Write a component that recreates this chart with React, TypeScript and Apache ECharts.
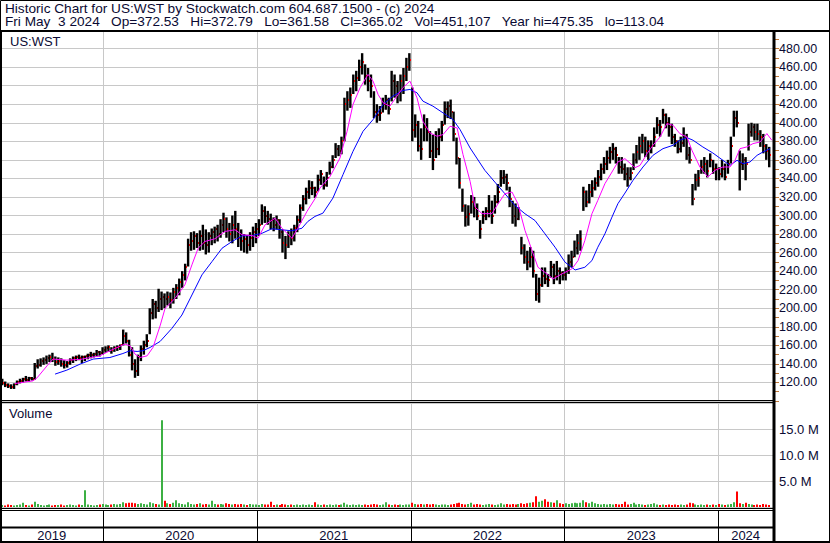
import React, { useEffect, useRef } from 'react';
import * as echarts from 'echarts';

const DAY = 86400000;
const FIRST_BAR = Date.UTC(2019, 4, 8);
const AXIS_MIN = Date.UTC(2019, 4, 5);
const AXIS_MAX = Date.UTC(2024, 4, 10);
const yearStarts = [AXIS_MIN, Date.UTC(2020, 0, 1), Date.UTC(2021, 0, 1), Date.UTC(2022, 0, 1), Date.UTC(2023, 0, 1), Date.UTC(2024, 0, 1)];
const yearLabels = ['2019', '2020', '2021', '2022', '2023', '2024'];

const titleLine = 'Historic Chart for US:WST by Stockwatch.com 604.687.1500 - (c) 2024';
const quoteFields = ['Fri May  3 2024', 'Op=372.53', 'Hi=372.79', 'Lo=361.58', 'Cl=365.02', 'Vol=451,107', 'Year hi=475.35', 'lo=113.04'];

// weekly bars (one per week starting week of May 6 2019)
const highs = [
  124, 121, 119, 118, 119, 122, 124, 125, 127, 126,
  126, 141, 145, 146, 147, 149, 150, 152, 148, 147,
  146, 144, 143, 146, 148, 149, 150, 149, 149, 151,
  153, 152, 155, 154, 158, 159, 160, 158, 159, 160,
  161, 177, 174, 166, 158, 145, 150, 160, 165, 172,
  200, 210, 208, 221, 218, 216, 218, 217, 222, 226,
  232, 240, 248, 275, 282, 283, 281, 284, 290, 285,
  282, 286, 288, 290, 296, 303, 298, 292, 300, 305,
  292, 285, 280, 279, 282, 288, 292, 296, 312, 310,
  305, 302, 298, 300, 296, 285, 278, 283, 286, 290,
  300, 312, 322, 330, 338, 337, 331, 344, 349, 342,
  347, 358, 365, 378, 376, 385, 427, 434, 438, 452,
  456, 468, 475, 463, 459, 452, 434, 420, 418, 427,
  430, 427, 456, 452, 445, 452, 459, 470, 475, 438,
  409, 402, 394, 409, 405, 391, 387, 391, 394, 402,
  423, 423, 425, 412, 384, 362, 329, 312, 311, 322,
  320, 313, 295, 305, 309, 322, 316, 322, 334, 349,
  349, 345, 331, 316, 313, 309, 277, 269, 262, 266,
  262, 237, 233, 244, 244, 237, 251, 248, 251, 244,
  240, 244, 258, 262, 273, 280, 284, 331, 327, 334,
  338, 341, 349, 356, 363, 370, 374, 378, 374, 363,
  363, 356, 352, 352, 367, 376, 385, 388, 385, 381,
  381, 395, 406, 403, 415, 410, 406, 399, 388, 381,
  385, 395, 388, 374, 334, 345, 349, 360, 363, 360,
  367, 360, 356, 352, 360, 356, 360, 385, 413, 413,
  370, 367, 363, 399, 400, 399, 399, 392, 388, 377, 374,
];
const lows = [
  117, 115, 114, 113, 113, 117, 119, 120, 121, 121,
  122, 123, 135, 137, 139, 140, 142, 142, 138, 139,
  137, 135, 136, 139, 141, 143, 144, 141, 143, 145,
  146, 147, 148, 148, 150, 152, 153, 151, 153, 154,
  155, 160, 162, 148, 133, 125, 127, 143, 150, 158,
  172, 188, 189, 196, 198, 200, 203, 200, 205, 210,
  214, 222, 230, 245, 262, 263, 265, 262, 263, 258,
  260, 268, 270, 272, 276, 282, 276, 272, 270, 275,
  266, 262, 260, 259, 262, 266, 270, 278, 290, 292,
  290, 285, 283, 285, 275, 260, 253, 265, 268, 272,
  282, 292, 305, 312, 318, 322, 319, 326, 333, 328,
  331, 344, 351, 362, 364, 366, 380, 413, 416, 431,
  434, 445, 452, 441, 434, 427, 405, 400, 402, 411,
  414, 409, 423, 427, 421, 423, 431, 445, 456, 380,
  384, 369, 360, 380, 380, 362, 349, 362, 365, 380,
  398, 405, 404, 380, 355, 329, 304, 288, 289, 302,
  298, 295, 275, 291, 295, 298, 291, 302, 313, 331,
  334, 327, 309, 291, 288, 295, 258, 248, 241, 244,
  233, 208, 206, 223, 226, 223, 233, 226, 230, 226,
  230, 230, 237, 244, 255, 258, 262, 305, 309, 313,
  320, 327, 331, 338, 345, 349, 356, 360, 356, 345,
  345, 338, 331, 338, 349, 356, 360, 367, 363, 360,
  367, 374, 388, 385, 399, 394, 385, 377, 374, 367,
  368, 374, 360, 356, 311, 327, 331, 345, 345, 341,
  352, 345, 338, 338, 341, 338, 345, 356, 385, 395,
  327, 349, 338, 370, 385, 381, 381, 374, 367, 360, 352,
];
const closes = [
  119, 117, 116, 115, 118, 121, 122, 124, 123, 125,
  124, 138, 139, 143, 144, 146, 147, 145, 142, 143,
  140, 139, 141, 144, 146, 147, 146, 147, 148, 150,
  150, 151, 153, 152, 155, 157, 158, 155, 157, 158,
  160, 170, 165, 150, 140, 132, 147, 156, 160, 165,
  195, 205, 200, 210, 212, 210, 212, 209, 218, 222,
  228, 236, 245, 268, 272, 278, 270, 278, 270, 268,
  278, 282, 285, 280, 290, 296, 285, 280, 290, 285,
  276, 272, 275, 268, 276, 282, 285, 290, 305, 300,
  296, 295, 290, 295, 282, 270, 268, 278, 276, 286,
  295, 308, 318, 325, 330, 330, 325, 338, 345, 333,
  340, 352, 360, 372, 370, 380, 420, 425, 430, 445,
  448, 460, 465, 450, 445, 440, 412, 408, 410, 420,
  425, 415, 445, 440, 432, 445, 450, 460, 468, 392,
  398, 375, 372, 395, 390, 370, 360, 372, 385, 398,
  415, 418, 412, 388, 362, 335, 310, 298, 302, 315,
  308, 300, 285, 300, 305, 305, 300, 315, 325, 340,
  342, 335, 318, 300, 296, 305, 265, 255, 250, 255,
  240, 215, 225, 235, 232, 230, 245, 235, 240, 238,
  236, 240, 250, 255, 265, 270, 275, 325, 315, 325,
  330, 335, 342, 350, 355, 362, 368, 372, 365, 352,
  350, 345, 340, 346, 360, 368, 375, 380, 370, 375,
  375, 385, 398, 395, 408, 400, 395, 385, 380, 372,
  378, 385, 365, 360, 318, 338, 340, 352, 355, 348,
  360, 350, 350, 345, 350, 342, 355, 375, 405, 400,
  355, 360, 355, 390, 395, 390, 388, 385, 375, 370, 365,
];
// representative daily volume per week, millions
const volumes = [
  0.4, 0.3, 0.5, 0.4, 0.3, 0.4, 0.5, 0.8, 0.4, 0.3,
  0.5, 1.0, 0.6, 0.4, 0.3, 0.4, 0.5, 0.3, 0.4, 0.4,
  0.5, 0.3, 0.4, 0.5, 0.4, 0.3, 0.5, 0.4, 3.2, 0.5,
  0.4, 0.3, 0.4, 0.5, 0.6, 0.5, 0.4, 0.5, 0.6, 0.5,
  0.6, 0.9, 0.7, 0.8, 0.8, 0.7, 0.6, 0.7, 0.6, 0.5,
  0.9, 0.7, 0.6, 0.5, 16.7, 1.2, 0.7, 0.6, 0.8, 1.3,
  0.7, 0.6, 0.5, 0.9, 0.6, 0.5, 0.6, 0.7, 0.5, 0.6,
  0.5, 1.2, 0.6, 0.5, 0.6, 0.5, 0.7, 0.6, 0.5, 0.6,
  0.5, 0.6, 0.5, 0.4, 0.6, 0.5, 0.5, 0.4, 0.6, 0.5,
  0.5, 1.0, 0.4, 0.5, 0.4, 0.6, 0.5, 0.4, 0.5, 0.4,
  0.5, 0.4, 0.5, 0.4, 0.5, 0.4, 0.9, 0.5, 0.4, 0.5,
  0.4, 0.5, 0.4, 0.5, 0.4, 0.5, 0.8, 0.5, 0.4, 0.5,
  0.4, 0.5, 0.4, 0.5, 0.4, 0.5, 0.6, 0.5, 0.4, 0.5,
  0.9, 0.5, 0.4, 0.5, 0.4, 0.5, 0.4, 0.5, 0.5, 0.8,
  0.6, 0.5, 0.6, 0.5, 0.6, 0.5, 0.6, 0.5, 0.4, 0.5,
  0.5, 0.4, 0.5, 0.6, 0.7, 0.8, 0.6, 0.5, 0.6, 0.8,
  0.5, 0.6, 0.5, 0.4, 0.5, 0.6, 0.5, 0.4, 0.5, 0.7,
  0.5, 0.6, 0.5, 0.6, 0.5, 0.6, 0.7, 0.6, 0.7, 0.8,
  0.9, 2.05, 1.0, 1.2, 1.5, 1.0, 0.9, 0.8, 1.3, 0.7,
  0.6, 0.7, 0.6, 0.7, 0.8, 0.7, 0.8, 1.3, 0.9, 0.7,
  1.0, 0.7, 0.6, 0.5, 0.6, 0.5, 0.6, 0.5, 0.6, 0.5,
  0.6, 1.0, 0.5, 0.6, 0.8, 0.5, 0.6, 0.5, 0.4, 0.5,
  0.6, 0.7, 0.5, 0.4, 0.5, 0.4, 0.5, 0.4, 0.5, 0.4,
  0.5, 0.4, 0.5, 0.8, 0.7, 0.5, 0.4, 0.5, 0.4, 0.5,
  0.4, 0.5, 0.4, 0.6, 0.5, 0.4, 0.5, 0.6, 0.9, 3.0,
  0.7, 0.6, 0.8, 0.6, 0.5, 0.4, 0.5, 0.4, 0.6, 0.5, 0.4,
];
// moving averages sampled at [week index, value]
const maShort = [
  [4.3, 118.8], [10.4, 121.7], [11.8, 125], [15.2, 138], [17.2, 145.2], [21.9, 144.1], [26.4, 144.8], [33.1, 148.7],
  [36.5, 154.2], [41.6, 161.4], [43.3, 159.6], [45, 150.6], [46.7, 146.9], [49.1, 148.7], [51.1, 157.7], [53.5, 181],
  [55.2, 199.9], [58.6, 210.7], [61.9, 225.2], [64.3, 246.8], [66.4, 264.7], [68.7, 272], [72.1, 274.9], [75.5, 282.8],
  [78.9, 284.6], [81.3, 279.2], [84.7, 278.4], [86.7, 275.5], [89.1, 290], [92.5, 297.1], [94.8, 286.3], [98.2, 275.5],
  [100.2, 286.3], [103.3, 304.4], [106, 318], [107.7, 329.6], [111.1, 342], [114.5, 362], [116.9, 390.8], [118.9, 419.7],
  [121.3, 437.7], [124, 452.1], [125.7, 444.9], [127.4, 430.5], [129.1, 421.5], [131.4, 417.9], [133.8, 428.7], [135.8, 437.7],
  [138.2, 444.9], [140.6, 426.9], [142.6, 401.6], [145, 389], [147.4, 385.4], [149.4, 387.2], [151.8, 396.2], [154.2, 394.4],
  [156.2, 365.6], [158.6, 336.8], [160.3, 309], [162.6, 302], [166, 302], [168.1, 312.7], [170.4, 323.5], [172.8, 325.3],
  [174.8, 312.7], [177.2, 284], [179.6, 262.2], [181.6, 244.2], [184.7, 237], [186.7, 231.6], [189.7, 237], [193.1, 242.4],
  [195.2, 251.4], [197.5, 273], [199.9, 301.9], [201.9, 316.3], [204.3, 334.3], [206.7, 346.9], [208.7, 357.7], [211.1, 361.3],
  [214.5, 351.6], [216.2, 354], [218.6, 366.7], [220.6, 375.7], [223, 384.7], [225.3, 399.1], [227.4, 397.3], [229.7, 388.3],
  [232.1, 384.7], [233.8, 370.3], [236.5, 352.3], [239.2, 341.5], [241.6, 348.7], [244.3, 352.3], [246.7, 352.3], [248.4, 359.5],
  [250.1, 372.1], [252.4, 373.9], [254.5, 377.5], [256.9, 379.3], [259.2, 388.3], [260.9, 381.1],
];
const maLong = [
  [17.9, 129], [21.9, 133.3], [26.4, 139.8], [30.8, 145.2], [36.5, 146.9], [40.9, 151.2], [43.3, 154.2], [45.7, 153.4],
  [47.7, 154.2], [50.1, 157.7], [53.5, 164.2], [57.5, 178.3], [60.9, 192.7], [64.3, 214.3], [67.7, 236], [71.1, 250.3],
  [74.5, 264.7], [77.9, 272], [81.3, 278.1], [84.7, 278.4], [88.1, 280.9], [91.4, 285.7], [94.8, 284.6], [98.2, 283.5],
  [101.6, 286.3], [103.6, 293.6], [106, 299], [108.7, 302.5], [112.1, 318.8], [115.5, 344], [118.9, 369.2], [122.3, 390.8],
  [125.7, 403.4], [129.1, 419.7], [132.4, 428.7], [135.8, 434.8], [138.2, 435.9], [140.6, 432.3], [142.6, 423.3], [146, 417.9],
  [149.4, 410.7], [152.8, 403.4], [155.2, 392.6], [158.6, 372.8], [163.6, 348.7], [167, 336], [170.4, 323.5], [173.8, 310.9],
  [177.2, 301.9], [180.6, 294.6], [184, 280.2], [187.4, 265.8], [190.8, 249.6], [194.2, 241.3], [197.5, 244.2], [199.9, 251.4],
  [201.9, 265.8], [204.3, 280.2], [206.7, 298.3], [208.7, 312.7], [211.1, 324.2], [213.8, 337.8], [217.2, 352.3], [220.6, 364.9],
  [224, 372.1], [227.4, 375.7], [229.7, 381.1], [232.1, 384], [234.2, 381.1], [237.5, 373.9], [240.9, 367.4], [244.3, 359.5],
  [246.7, 354.1], [249.1, 359.5], [251.1, 355.9], [253.5, 357.7], [255.9, 364.9], [257.9, 368.5], [260.3, 372.1],
];

const FONT = 'Arial, "Liberation Sans", sans-serif';
const TXT = '#0a0a33';
const GRIDC = '#c8c8c8';

const weekTime = (w: number) => FIRST_BAR + w * 7 * DAY;

export default function App() {
  const ref = useRef<HTMLDivElement>(null);
  useEffect(() => {
    document.body.style.margin = '0';
    const chart = echarts.init(ref.current!, undefined, { renderer: 'svg' });
    const barData = highs.map((h, i) => [weekTime(i), h, lows[i], closes[i]]);
    const volData = volumes.map((v, i) => [weekTime(i), v, i === 0 || closes[i] >= closes[i - 1] ? 1 : 0]);
    const yearLineData = yearStarts.slice(1).map((t) => [t]);
    const yearBandData = yearStarts.map((t, i) => [t, i < yearStarts.length - 1 ? yearStarts[i + 1] : AXIS_MAX, i]);

    const vGrid = (params: any, api: any) => {
      const cs = params.coordSys;
      const x = Math.round(api.coord([api.value(0), 0])[0]) + 0.5;
      return { type: 'line', shape: { x1: x, y1: cs.y, x2: x, y2: cs.y + cs.height }, style: { stroke: GRIDC, lineWidth: 1 } };
    };

    const xAxisBase = { type: 'time', min: AXIS_MIN, max: AXIS_MAX, show: false };

    const hl = (x1: number, y: number, x2: number, w: number) => ({
      type: 'line', z: 100, shape: { x1, y1: y, x2, y2: y }, style: { stroke: '#000', lineWidth: w },
    });
    const vl = (x: number, y1: number, y2: number, w: number) => ({
      type: 'line', z: 100, shape: { x1: x, y1, x2: x, y2 }, style: { stroke: '#000', lineWidth: w },
    });
    const quoteLine = quoteFields.join('   ').replace(/ /g, '\u00a0');

    chart.setOption({
      animation: false,
      useUTC: true,
      backgroundColor: '#ffffff',
      grid: [
        { left: 1, right: 57, top: 30, height: 371 },
        { left: 1, right: 57, top: 403, height: 104 },
        { left: 1, right: 57, top: 510, height: 33 },
      ],
      xAxis: [
        { ...xAxisBase, gridIndex: 0 },
        { ...xAxisBase, gridIndex: 1 },
        { ...xAxisBase, gridIndex: 2 },
      ],
      yAxis: [
        {
          gridIndex: 0, type: 'value', position: 'right', min: 100, max: 500, interval: 20,
          axisLine: { show: false },
          axisTick: { show: true, length: 6, lineStyle: { color: '#c07838' } },
          minorTick: { show: true, splitNumber: 2, length: 6, lineStyle: { color: '#c07838' } },
          splitLine: { show: true, lineStyle: { color: GRIDC, width: 1 } },
          axisLabel: {
            margin: 6, color: TXT, fontSize: 12.5, fontFamily: FONT,
            formatter: (v: number) => (v <= 100 || v >= 500 ? '' : v.toFixed(2)),
          },
        },
        {
          gridIndex: 1, type: 'value', position: 'right', min: 0, max: 20, interval: 5,
          axisLine: { show: false }, axisTick: { show: false },
          splitLine: { show: true, lineStyle: { color: GRIDC, width: 1 } },
          axisLabel: {
            margin: 6, color: TXT, fontSize: 13, fontFamily: FONT,
            formatter: (v: number) => (v <= 0 || v >= 20 ? '' : v.toFixed(1) + ' M'),
          },
        },
        { gridIndex: 2, type: 'value', min: 0, max: 1, show: false },
      ],
      series: [
        { type: 'custom', xAxisIndex: 0, yAxisIndex: 0, z: 1, silent: true, data: yearLineData, renderItem: vGrid },
        { type: 'custom', xAxisIndex: 1, yAxisIndex: 1, z: 1, silent: true, data: yearLineData, renderItem: vGrid },
        {
          type: 'custom', xAxisIndex: 0, yAxisIndex: 0, z: 5, silent: true,
          data: barData, encode: { x: 0, y: [1, 2] },
          renderItem: (params: any, api: any) => {
            const t = api.value(0);
            const hi = api.coord([t, api.value(1)]);
            const lo = api.coord([t, api.value(2)]);
            const cl = api.coord([t, api.value(3)]);
            const x = hi[0];
            return {
              type: 'group',
              children: [
                { type: 'rect', shape: { x: x - 1.2, y: hi[1], width: 2.4, height: Math.max(1, lo[1] - hi[1]) }, style: { fill: '#000' } },
                { type: 'rect', shape: { x: Math.round(x) + 1, y: Math.round(cl[1]) - 1, width: 1, height: 2 }, style: { fill: '#ff0000' } },
              ],
            };
          },
        },
        {
          type: 'line', xAxisIndex: 0, yAxisIndex: 0, z: 6, silent: true, showSymbol: false, symbol: 'none',
          data: maLong.map(([w, v]) => [weekTime(w), v]),
          lineStyle: { color: '#0000ff', width: 1 },
        },
        {
          type: 'line', xAxisIndex: 0, yAxisIndex: 0, z: 7, silent: true, showSymbol: false, symbol: 'none',
          data: maShort.map(([w, v]) => [weekTime(w), v]),
          lineStyle: { color: '#ff00ff', width: 1 },
        },
        {
          type: 'custom', xAxisIndex: 1, yAxisIndex: 1, z: 5, silent: true,
          data: volData, encode: { x: 0, y: 1 },
          renderItem: (params: any, api: any) => {
            const t = api.value(0);
            const top = api.coord([t, api.value(1)]);
            const base = api.coord([t, 0]);
            const x = Math.round(top[0]);
            return {
              type: 'rect',
              shape: { x: x - 1, y: top[1], width: 2, height: Math.max(1, base[1] - top[1]) },
              style: { fill: api.value(2) ? '#3cb043' : '#ff0000' },
            };
          },
        },
        {
          type: 'custom', xAxisIndex: 2, yAxisIndex: 2, z: 5, silent: true,
          data: yearBandData,
          renderItem: (params: any, api: any) => {
            const cs = params.coordSys;
            const x1 = api.coord([api.value(0), 0])[0];
            const x2 = api.coord([api.value(1), 0])[0];
            const idx = api.value(2);
            const children: any[] = [
              {
                type: 'text', x: (x1 + x2) / 2, y: cs.y + 25.5,
                style: { text: yearLabels[idx], fill: TXT, font: `13px ${FONT}`, align: 'center', verticalAlign: 'middle' },
              },
            ];
            if (idx > 0) {
              const xr = Math.round(x1) + 0.5;
              children.push({ type: 'line', shape: { x1: xr, y1: cs.y, x2: xr, y2: cs.y + cs.height }, style: { stroke: '#000', lineWidth: 1 } });
            }
            return { type: 'group', children };
          },
        },
      ],
      graphic: [
        { type: 'rect', z: 100, shape: { x: 0.5, y: 0.5, width: 829, height: 542 }, style: { fill: 'none', stroke: '#000', lineWidth: 1 } },
        vl(1.5, 31, 543, 1),
        hl(0, 31, 830, 2),
        vl(774, 31, 543, 3),
        hl(0, 400.5, 774, 1),
        hl(0, 402.5, 774, 1),
        hl(0, 508.5, 774, 1),
        hl(0, 510.5, 774, 1),
        hl(0, 527.5, 774, 2),
        hl(0, 542, 830, 2),
        {
          type: 'text', z: 101, x: 5, y: 8.5, scaleX: 1.05,
          style: { text: titleLine, fill: TXT, font: `13px ${FONT}`, verticalAlign: 'middle' },
        },
        {
          type: 'text', z: 101, x: 5, y: 22, scaleX: 1.05,
          style: { text: quoteLine, fill: TXT, font: `13px ${FONT}`, verticalAlign: 'middle' },
        },
        { type: 'text', z: 101, x: 10, y: 41.5, style: { text: 'US:WST', fill: TXT, font: `13px ${FONT}`, verticalAlign: 'middle' } },
        { type: 'text', z: 101, x: 9, y: 413.5, style: { text: 'Volume', fill: TXT, font: `13px ${FONT}`, verticalAlign: 'middle' } },
      ],
    });
    return () => chart.dispose();
  }, []);
  return <div ref={ref} style={{ position: 'absolute', left: 0, top: 0, width: 830, height: 543 }} />;
}
